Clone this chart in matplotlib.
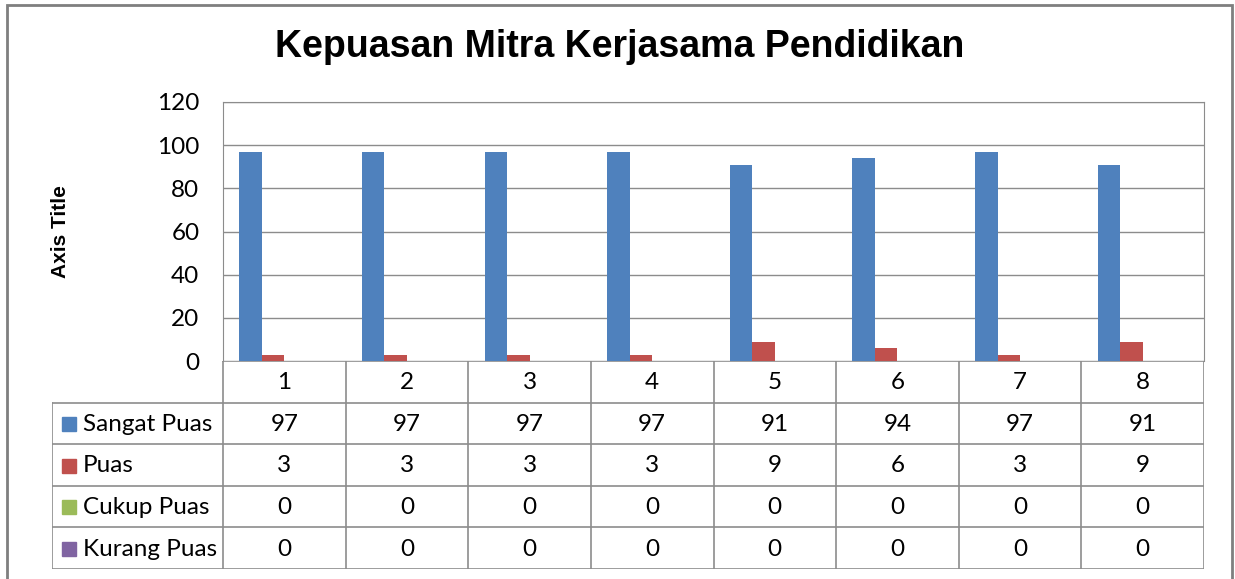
import matplotlib.pyplot as plt
from matplotlib.patches import Rectangle

# data
categories = ['1', '2', '3', '4', '5', '6', '7', '8']
series_names = ['Sangat Puas', 'Puas', 'Cukup Puas', 'Kurang Puas']
sangat_puas = [97, 97, 97, 97, 91, 94, 97, 91]
puas = [3, 3, 3, 3, 9, 6, 3, 9]
cukup_puas = [0, 0, 0, 0, 0, 0, 0, 0]
kurang_puas = [0, 0, 0, 0, 0, 0, 0, 0]
yticks = [0, 20, 40, 60, 80, 100, 120]

series = [sangat_puas, puas, cukup_puas, kurang_puas]
colors = ['#4F81BD', '#C0504D', '#9BBB59', '#8064A2']
grid_c = '#8c8c8c'
txt_font = 'Lato'
fs = 17.5

W, H = 1235, 579
fig = plt.figure(figsize=(W / 100, H / 100), dpi=100)

# outer chart frame
fig.patches.append(Rectangle((7 / W, -0.05), (1232 - 7) / W, 1.05 - 5 / H,
                             transform=fig.transFigure, fill=False,
                             edgecolor='#7f7f7f', lw=2))

# plot area
x0, x1, y0, y1 = 223, 1204, 102, 361
ax = fig.add_axes([x0 / W, 1 - y1 / H, (x1 - x0) / W, (y1 - y0) / H])
n = len(categories)
bw = 0.1834
for i, (vals, c) in enumerate(zip(series, colors)):
    xs = [k + 1 + (i - 1.5) * bw for k in range(n)]
    ax.bar(xs, vals, width=bw, color=c, zorder=3)
ax.set_xlim(0.5, n + 0.5)
ax.set_ylim(0, 120)
ax.set_yticks(yticks)
ax.set_yticklabels([str(v) for v in yticks], fontsize=fs, family=txt_font)
ax.tick_params(axis='y', length=0, pad=17)
ax.set_xticks([])
ax.grid(axis='y', color=grid_c, lw=1, zorder=0)
for s in ax.spines.values():
    s.set_color(grid_c)
ax.spines['bottom'].set_visible(False)
ax.set_ylabel('Axis Title', fontsize=15, fontweight='bold',
              family='Liberation Sans')
ax.yaxis.set_label_coords(-(223 - 60) / (x1 - x0), 0.5)
ax.yaxis.label.set_va('center')

fig.text(620 / W, 1 - 47 / H, 'Kepuasan Mitra Kerjasama Pendidikan',
         ha='center', va='center', fontsize=27, fontweight='bold',
         family='Liberation Sans')

# data table
t0, t1 = 361, 569
cw = (x1 - x0) / n
left_units = (x0 - 52) / cw
tab = fig.add_axes([52 / W, 1 - t1 / H, (x1 - 52) / W, (t1 - t0) / H])
tab.set_xlim(0.5 - left_units, n + 0.5)
tab.set_ylim(5, 0)
tab.axis('off')
rows = len(series) + 1
# horizontal lines
tab.plot([0.5, n + 0.5], [0, 0], color=grid_c, lw=1.2)
for r in range(1, rows + 1):
    tab.plot([0.5 - left_units, n + 0.5], [r, r], color=grid_c, lw=1.2)
# vertical lines
for k in range(n + 1):
    tab.plot([0.5 + k, 0.5 + k], [0, rows], color=grid_c, lw=1.2)
tab.plot([0.5 - left_units] * 2, [1, rows], color=grid_c, lw=1.2)

row_h = (t1 - t0) / rows
for k, cat in enumerate(categories):
    tab.text(k + 1, 0.52, cat, ha='center', va='center', fontsize=fs,
             family=txt_font)
for r, (name, vals, c) in enumerate(zip(series_names, series, colors)):
    yc = r + 1.52
    tab.add_patch(Rectangle((0.5 - left_units + 10 / cw, yc - 7 / row_h),
                            14 / cw, 14 / row_h, color=c))
    tab.text(0.5 - left_units + 31 / cw, yc, name, ha='left', va='center',
             fontsize=fs, family=txt_font)
    for k, v in enumerate(vals):
        tab.text(k + 1, yc, str(v), ha='center', va='center', fontsize=fs,
                 family=txt_font)

fig.savefig('out.png', dpi=100)
